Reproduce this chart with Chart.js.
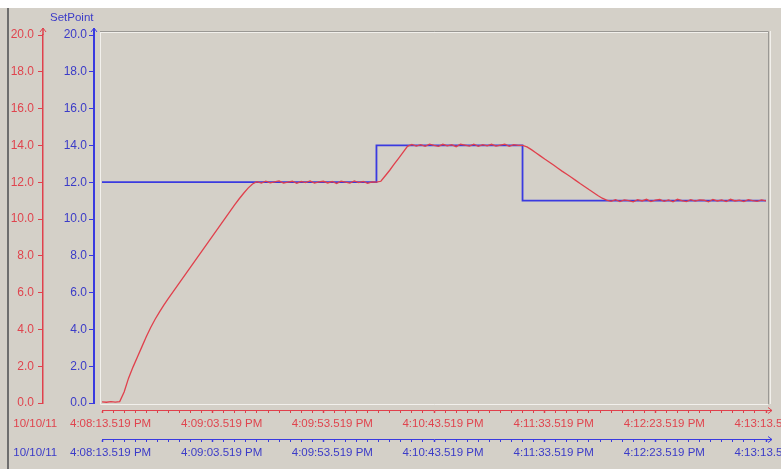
<!DOCTYPE html>
<html>
<head>
<meta charset="utf-8">
<script src="https://cdn.jsdelivr.net/npm/chart.js@4.4.0/dist/chart.umd.min.js"></script>
<style>
  html, body { margin: 0; padding: 0; background: #ffffff; }
  canvas { display: block; }
</style>
</head>
<body>
<canvas id="trendChart" width="781" height="469"></canvas>
<script>
// seconds after 4:08:13.519 PM
const sampleTimes = [
    0, 2, 4, 6, 8, 10, 12, 14, 16, 18, 20, 22, 24, 26, 28, 30, 32, 34, 36, 38,
    40, 42, 44, 46, 48, 50, 52, 54, 56, 58, 60, 62, 64, 66, 68, 70, 72, 74, 76, 78,
    80, 82, 84, 86, 88, 90, 92, 94, 96, 98, 100, 102, 104, 106, 108, 110, 112, 114, 116, 118,
    120, 122, 124, 126, 128, 130, 132, 134, 136, 138, 140, 142, 144, 146, 148, 150, 152, 154, 156, 158,
    160, 162, 164, 166, 168, 170, 172, 174, 176, 178, 180, 182, 184, 186, 188, 190, 192, 194, 196, 198,
    200, 202, 204, 206, 208, 210, 212, 214, 216, 218, 220, 222, 224, 226, 228, 230, 232, 234, 236, 238,
    240, 242, 244, 246, 248, 250, 252, 254, 256, 258, 260, 262, 264, 266, 268, 270, 272, 274, 276, 278,
    280, 282, 284, 286, 288, 290, 292, 294, 296, 298, 300
];
const processValues = [
    // 0 - 8 s
    0.06, 0.04, 0.07, 0.05, 0.08,
    // 10 - 68 s
    0.6, 1.35, 1.95, 2.5, 3.05, 3.6, 4.1, 4.55, 4.95, 5.33,
    5.68, 6.02, 6.36, 6.7, 7.04, 7.38, 7.72, 8.06, 8.4, 8.74,
    9.08, 9.42, 9.76, 10.1, 10.44, 10.78, 11.1, 11.4, 11.68, 11.9,
    // 70 - 122 s
    12.03, 11.95, 12.06, 11.96, 12.02, 12.07, 11.95, 12.01, 12.05, 11.94,
    12.04, 11.98, 12.07, 11.95, 12.02, 12.05, 11.96, 12.04, 11.93, 12.06,
    12.00, 11.95, 12.07, 11.98, 12.04, 11.94, 12.02,
    // 124 - 138 s
    12.0, 12.05, 12.35, 12.65, 12.98, 13.3, 13.62, 13.95,
    // 140 - 188 s
    14.05, 13.96, 14.04, 13.95, 14.07, 14.00, 13.95, 14.06, 13.98, 14.04,
    13.93, 14.06, 14.02, 13.96, 14.07, 13.95, 14.04, 13.98, 14.06, 13.96,
    14.02, 14.07, 13.95, 14.04, 14.00,
    // 190 - 228 s
    14.0, 13.92, 13.77, 13.6, 13.43, 13.26, 13.1, 12.93, 12.76, 12.59,
    12.43, 12.27, 12.1, 11.93, 11.77, 11.6, 11.44, 11.28, 11.13, 11.03,
    // 230 - 300 s
    10.96, 11.05, 10.95, 11.04, 11.00, 10.93, 11.05, 10.98, 11.07, 10.95,
    11.02, 11.06, 10.96, 11.04, 10.93, 11.07, 11.00, 10.95, 11.05, 10.97,
    11.04, 11.02, 10.93, 11.06, 10.98, 11.04, 10.95, 11.07, 10.98, 11.02,
    10.95, 11.05, 11.00, 10.96, 11.04, 10.98
];
const setpointTimes = [0, 124, 190, 300];
const setpointValues = [12, 14, 11, 11];

const startDate = "10/10/11";
const startClock = [4, 8, 13];
const clockSuffix = ".519 PM";

const RED = '#E0404C';
const RED_TEXT = '#E0444E';
const BLUE = '#3A3AE0';
const BLUE_TEXT = '#3B3BC8';
const FONT = "'Liberation Sans', Arial, sans-serif";

function pad(n) {
    return n < 10 ? '0' + n : '' + n;
}

function clockLabel(sec) {
    const total = startClock[1] * 60 + startClock[2] + sec;
    return startClock[0] + ':' + pad(Math.floor(total / 60)) + ':' + pad(total % 60) + clockSuffix;
}

function timeTick(value) {
    if (value % 50 !== 0) return '';
    // trailing spaces keep the time part centred on its tick
    if (value === 0) return startDate + '    ' + clockLabel(0) + '                  ';
    return clockLabel(value);
}

function yAxis(color, textColor, weight, borderWidth, padding) {
    return {
        type: 'linear',
        position: 'left',
        weight: weight,
        min: 0,
        max: 20,
        ticks: {
            stepSize: 2,
            color: textColor,
            padding: padding,
            font: { size: 12, family: FONT },
            callback: v => v.toFixed(1)
        },
        grid: { drawOnChartArea: false, drawTicks: true, tickLength: 5, tickColor: color, tickWidth: 1 },
        border: { display: true, color: color, width: borderWidth },
        afterFit: s => { s.width = weight === 2 ? 43 : 51; s.paddingTop = 0; s.paddingBottom = 0; }
    };
}

function xAxis(color, textColor, weight, height) {
    return {
        type: 'linear',
        position: 'bottom',
        weight: weight,
        min: 0,
        max: 300,
        ticks: {
            stepSize: 5,
            autoSkip: false,
            maxRotation: 0,
            minRotation: 0,
            labelOffset: 9,
            padding: 4,
            color: textColor,
            font: { size: 11.5, family: FONT },
            callback: timeTick
        },
        grid: {
            drawOnChartArea: false,
            drawTicks: true,
            tickLength: 3,
            tickColor: color,
            tickWidth: ctx => (ctx.tick && ctx.tick.value % 50 === 0 ? 1.5 : 1)
        },
        border: { display: true, color: color, width: 1 },
        afterFit: s => { s.height = height; s.paddingLeft = 0; s.paddingRight = 0; }
    };
}

function gapAxis(position, size) {
    return {
        type: 'linear',
        position: position,
        weight: 0,
        ticks: { display: false },
        grid: { display: false },
        border: { display: false },
        afterFit: s => { if (position === 'left') s.width = size; else s.height = size; }
    };
}

const framePlugin = {
    id: 'frame',
    beforeDraw(chart) {
        const ctx = chart.ctx;
        ctx.save();
        ctx.fillStyle = '#D4D0C8';
        ctx.fillRect(0, 0, chart.width, chart.height);
        ctx.fillStyle = '#FFFFFF';
        ctx.fillRect(0, 0, chart.width, 8);
        ctx.fillStyle = '#6E6E6E';
        ctx.fillRect(7, 8, 2, chart.height - 8);
        ctx.restore();
    },
    beforeDatasetsDraw(chart) {
        const ctx = chart.ctx;
        const a = chart.chartArea;
        const l = a.left - 2, t = a.top - 4, r = a.right + 2, b = a.bottom + 1;
        ctx.save();
        ctx.lineWidth = 1;
        ctx.strokeStyle = '#F2F0EC';
        ctx.beginPath();
        ctx.moveTo(l + 0.5, t);
        ctx.lineTo(l + 0.5, b + 0.5);
        ctx.lineTo(r, b + 0.5);
        ctx.moveTo(l, t + 1.5);
        ctx.lineTo(r, t + 1.5);
        ctx.moveTo(r + 2.5, t);
        ctx.lineTo(r + 2.5, b);
        ctx.stroke();
        ctx.strokeStyle = '#9A9894';
        ctx.beginPath();
        ctx.moveTo(l, t + 0.5);
        ctx.lineTo(r + 0.5, t + 0.5);
        ctx.lineTo(r + 0.5, b);
        ctx.stroke();
        ctx.restore();
    },
    afterDraw(chart) {
        const ctx = chart.ctx;
        const a = chart.chartArea;
        ctx.save();
        [['y', RED, 1.5], ['y2', BLUE, 2]].forEach(([id, color, w]) => {
            const x = chart.scales[id].right;
            ctx.strokeStyle = color;
            ctx.lineWidth = w;
            ctx.beginPath();
            ctx.moveTo(x, a.top);
            ctx.lineTo(x, a.top - 7);
            ctx.stroke();
            ctx.lineWidth = 1;
            ctx.beginPath();
            ctx.moveTo(x - 3, a.top - 3);
            ctx.lineTo(x, a.top - 7);
            ctx.lineTo(x + 3, a.top - 3);
            ctx.stroke();
        });
        [['x', RED], ['x2', BLUE]].forEach(([id, color]) => {
            const y = Math.round(chart.scales[id].top) + 0.5;
            ctx.strokeStyle = color;
            ctx.lineWidth = 1;
            ctx.beginPath();
            ctx.moveTo(a.right, y);
            ctx.lineTo(a.right + 6, y);
            ctx.moveTo(a.right + 2, y - 3);
            ctx.lineTo(a.right + 6, y);
            ctx.lineTo(a.right + 2, y + 3);
            ctx.stroke();
        });
        ctx.fillStyle = BLUE_TEXT;
        ctx.font = '11.5px ' + FONT;
        ctx.textAlign = 'left';
        ctx.textBaseline = 'middle';
        ctx.fillText('SetPoint', chart.scales.y2.left + 7, 18);
        ctx.restore();
    }
};

const processData = sampleTimes.map((t, i) => ({ x: t, y: processValues[i] }));
const setpointData = setpointTimes.map((t, i) => ({ x: t, y: setpointValues[i] }));

new Chart(document.getElementById('trendChart').getContext('2d'), {
    type: 'line',
    data: {
        datasets: [
            {
                label: 'Process',
                data: processData,
                xAxisID: 'x',
                yAxisID: 'y',
                borderColor: RED,
                borderWidth: 1.3,
                pointRadius: 0,
                tension: 0
            },
            {
                label: 'SetPoint',
                data: setpointData,
                xAxisID: 'x2',
                yAxisID: 'y2',
                borderColor: BLUE,
                borderWidth: 1.8,
                pointRadius: 0,
                stepped: true
            }
        ]
    },
    options: {
        responsive: false,
        animation: false,
        devicePixelRatio: 1,
        layout: { padding: { top: 35, right: 15, left: 0, bottom: 0 } },
        plugins: {
            legend: { display: false },
            tooltip: { enabled: false }
        },
        scales: {
            y: yAxis(RED, RED_TEXT, 2, 1.5, 4),
            y2: yAxis(BLUE, BLUE_TEXT, 1, 2, 2),
            yGap: gapAxis('left', 8),
            xGap: gapAxis('bottom', 7),
            x: xAxis(RED, RED_TEXT, 1, 29),
            x2: xAxis(BLUE, BLUE_TEXT, 2, 30)
        }
    },
    plugins: [framePlugin]
});
</script>
</body>
</html>
